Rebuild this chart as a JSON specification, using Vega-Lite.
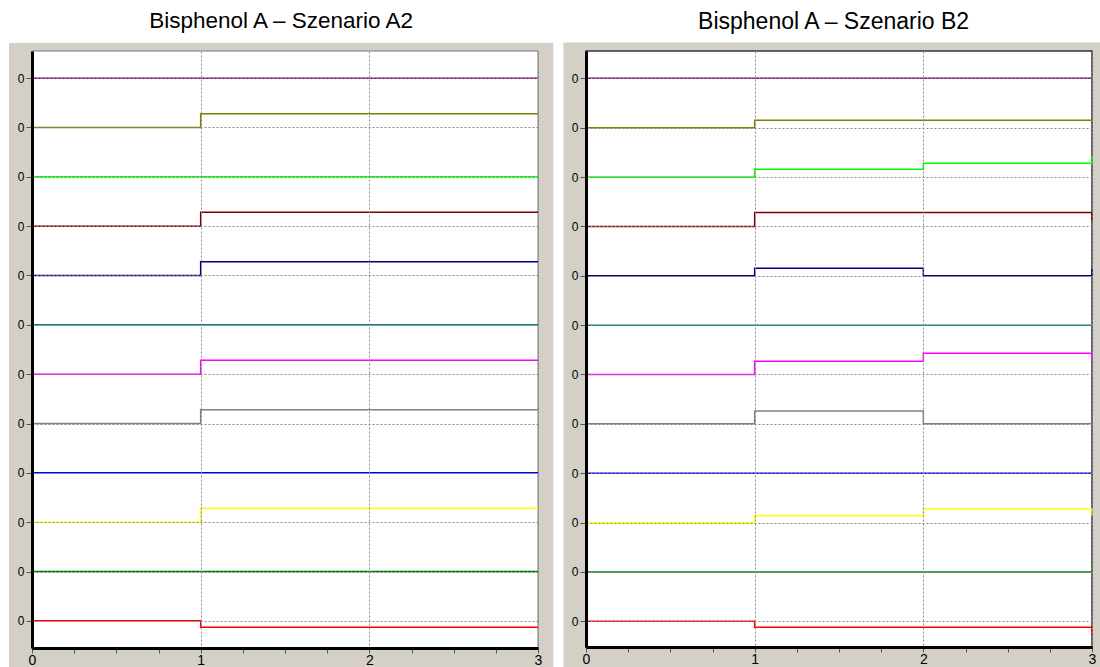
{
  "$schema": "https://vega.github.io/schema/vega-lite/v6.json",
  "background": "white",
  "padding": {"left": 8, "top": 9, "right": 0, "bottom": 0},
  "spacing": 9,
  "config": {
    "view": {"stroke": null},
    "font": "Liberation Sans",
    "axis": {
      "title": null,
      "domainColor": "black",
      "domainWidth": 3,
      "tickColor": "#555555",
      "tickWidth": 1,
      "labelColor": "black",
      "labelFont": "Liberation Sans",
      "labelOverlap": false,
      "labelFlush": false,
      "grid": true,
      "gridColor": "#888888",
      "gridDash": [2, 2],
      "gridWidth": 1
    },
    "axisX": {"labelFontSize": 14, "labelPadding": 0},
    "axisY": {"labelFontSize": 12, "labelPadding": 2}
  },
  "datasets": {
    "a2": [
      {"s": "S1", "x": 0, "v": 11}, {"s": "S1", "x": 1, "v": 11}, {"s": "S1", "x": 2, "v": 11}, {"s": "S1", "x": 3, "v": 11},
      {"s": "S2", "x": 0, "v": 10}, {"s": "S2", "x": 1, "v": 10.28}, {"s": "S2", "x": 2, "v": 10.28}, {"s": "S2", "x": 3, "v": 10.28},
      {"s": "S3", "x": 0, "v": 9}, {"s": "S3", "x": 1, "v": 9}, {"s": "S3", "x": 2, "v": 9}, {"s": "S3", "x": 3, "v": 9},
      {"s": "S4", "x": 0, "v": 8}, {"s": "S4", "x": 1, "v": 8.28}, {"s": "S4", "x": 2, "v": 8.28}, {"s": "S4", "x": 3, "v": 8.28},
      {"s": "S5", "x": 0, "v": 7}, {"s": "S5", "x": 1, "v": 7.28}, {"s": "S5", "x": 2, "v": 7.28}, {"s": "S5", "x": 3, "v": 7.28},
      {"s": "S6", "x": 0, "v": 6}, {"s": "S6", "x": 1, "v": 6}, {"s": "S6", "x": 2, "v": 6}, {"s": "S6", "x": 3, "v": 6},
      {"s": "S7", "x": 0, "v": 5}, {"s": "S7", "x": 1, "v": 5.28}, {"s": "S7", "x": 2, "v": 5.28}, {"s": "S7", "x": 3, "v": 5.28},
      {"s": "S8", "x": 0, "v": 4}, {"s": "S8", "x": 1, "v": 4.28}, {"s": "S8", "x": 2, "v": 4.28}, {"s": "S8", "x": 3, "v": 4.28},
      {"s": "S9", "x": 0, "v": 3}, {"s": "S9", "x": 1, "v": 3}, {"s": "S9", "x": 2, "v": 3}, {"s": "S9", "x": 3, "v": 3},
      {"s": "S10", "x": 0, "v": 2}, {"s": "S10", "x": 1, "v": 2.28}, {"s": "S10", "x": 2, "v": 2.28}, {"s": "S10", "x": 3, "v": 2.28},
      {"s": "S11", "x": 0, "v": 1}, {"s": "S11", "x": 1, "v": 1}, {"s": "S11", "x": 2, "v": 1}, {"s": "S11", "x": 3, "v": 1},
      {"s": "S12", "x": 0, "v": 0}, {"s": "S12", "x": 1, "v": -0.13}, {"s": "S12", "x": 2, "v": -0.13}, {"s": "S12", "x": 3, "v": -0.13}
    ],
    "b2": [
      {"s": "S1", "x": 0, "v": 11}, {"s": "S1", "x": 1, "v": 11}, {"s": "S1", "x": 2, "v": 11}, {"s": "S1", "x": 3, "v": 11},
      {"s": "S2", "x": 0, "v": 10}, {"s": "S2", "x": 1, "v": 10.15}, {"s": "S2", "x": 2, "v": 10.15}, {"s": "S2", "x": 3, "v": 10.15},
      {"s": "S3", "x": 0, "v": 9}, {"s": "S3", "x": 1, "v": 9.16}, {"s": "S3", "x": 2, "v": 9.28}, {"s": "S3", "x": 3, "v": 9.42},
      {"s": "S4", "x": 0, "v": 8}, {"s": "S4", "x": 1, "v": 8.28}, {"s": "S4", "x": 2, "v": 8.28}, {"s": "S4", "x": 3, "v": 8.12},
      {"s": "S5", "x": 0, "v": 7}, {"s": "S5", "x": 1, "v": 7.15}, {"s": "S5", "x": 2, "v": 7}, {"s": "S5", "x": 3, "v": 7.15},
      {"s": "S6", "x": 0, "v": 6}, {"s": "S6", "x": 1, "v": 6}, {"s": "S6", "x": 2, "v": 6}, {"s": "S6", "x": 3, "v": 6},
      {"s": "S7", "x": 0, "v": 5}, {"s": "S7", "x": 1, "v": 5.27}, {"s": "S7", "x": 2, "v": 5.43}, {"s": "S7", "x": 3, "v": 5.27},
      {"s": "S8", "x": 0, "v": 4}, {"s": "S8", "x": 1, "v": 4.26}, {"s": "S8", "x": 2, "v": 4}, {"s": "S8", "x": 3, "v": 4},
      {"s": "S9", "x": 0, "v": 3}, {"s": "S9", "x": 1, "v": 3}, {"s": "S9", "x": 2, "v": 3}, {"s": "S9", "x": 3, "v": 3},
      {"s": "S10", "x": 0, "v": 2}, {"s": "S10", "x": 1, "v": 2.14}, {"s": "S10", "x": 2, "v": 2.28}, {"s": "S10", "x": 3, "v": 2.15},
      {"s": "S11", "x": 0, "v": 1}, {"s": "S11", "x": 1, "v": 1}, {"s": "S11", "x": 2, "v": 1}, {"s": "S11", "x": 3, "v": 1},
      {"s": "S12", "x": 0, "v": 0}, {"s": "S12", "x": 1, "v": -0.12}, {"s": "S12", "x": 2, "v": -0.12}, {"s": "S12", "x": 3, "v": -0.28}
    ]
  },
  "hconcat": [
    {
      "title": {"text": "Bisphenol A – Szenario A2", "fontSize": 22.5, "font": "Liberation Sans", "fontWeight": "normal", "color": "black", "anchor": "middle", "frame": "bounds", "offset": 11},
      "width": 506,
      "height": 597,
      "layer": [
        {
          "data": {"values": [{}]},
          "mark": {"type": "rect", "fill": "#d4d0c8", "stroke": null},
          "encoding": {
            "x": {
              "datum": -0.1364, "type": "quantitative",
              "scale": {"domain": [0, 3], "nice": false, "zero": false},
              "axis": {
                "zindex": 1,
                "values": [0, 0.25, 0.5, 0.75, 1, 1.25, 1.5, 1.75, 2, 2.25, 2.5, 2.75, 3],
                "labelExpr": "abs(datum.value - round(datum.value)) < 0.01 ? format(datum.value, 'd') : ''",
                "tickSize": 5,
                "gridOpacity": {"condition": {"test": "abs(datum.value - round(datum.value)) < 0.01 && datum.value > 0.5", "value": 1}, "value": 0}
              }
            },
            "x2": {"datum": 3.0908},
            "y": {
              "datum": -1.0, "type": "quantitative",
              "scale": {"domain": [-0.55, 11.55], "nice": false, "zero": false},
              "axis": {
                "zindex": 1,
                "values": [0, 1, 2, 3, 4, 5, 6, 7, 8, 9, 10, 11],
                "labelExpr": "'0'",
                "tickSize": 6
              }
            },
            "y2": {"datum": 11.712}
          }
        },
        {
          "data": {"values": [{}]},
          "mark": {"type": "rect", "fill": "white", "stroke": "#777777", "strokeWidth": 1},
          "encoding": {
            "x": {"datum": 0, "type": "quantitative"},
            "x2": {"datum": 3},
            "y": {"datum": -0.55, "type": "quantitative"},
            "y2": {"datum": 11.55}
          }
        },
        {
          "data": {"name": "a2"},
          "mark": {"type": "line", "interpolate": "step-after", "strokeWidth": 1.5},
          "encoding": {
            "x": {"field": "x", "type": "quantitative"},
            "y": {"field": "v", "type": "quantitative"},
            "color": {
              "field": "s", "type": "nominal", "legend": null,
              "scale": {
                "domain": ["S1", "S2", "S3", "S4", "S5", "S6", "S7", "S8", "S9", "S10", "S11", "S12"],
                "range": ["#800080", "#808000", "#00ff00", "#800000", "#000080", "#008080", "#ff00ff", "#808080", "#0000ff", "#ffff00", "#008000", "#ff0000"]
              }
            }
          }
        }
      ]
    },
    {
      "title": {"text": "Bisphenol A – Szenario B2", "fontSize": 23, "font": "Liberation Sans", "fontWeight": "normal", "color": "black", "anchor": "middle", "frame": "bounds", "offset": 9},
      "width": 506,
      "height": 596,
      "layer": [
        {
          "data": {"values": [{}]},
          "mark": {"type": "rect", "fill": "#d4d0c8", "stroke": null},
          "encoding": {
            "x": {
              "datum": -0.134, "type": "quantitative",
              "scale": {"domain": [0, 3], "nice": false, "zero": false},
              "axis": {
                "zindex": 1,
                "values": [0, 0.25, 0.5, 0.75, 1, 1.25, 1.5, 1.75, 2, 2.25, 2.5, 2.75, 3],
                "labelExpr": "abs(datum.value - round(datum.value)) < 0.01 ? format(datum.value, 'd') : ''",
                "tickSize": 5,
                "gridOpacity": {"condition": {"test": "abs(datum.value - round(datum.value)) < 0.01 && datum.value > 0.5", "value": 1}, "value": 0}
              }
            },
            "x2": {"datum": 3.07},
            "y": {
              "datum": -1.0, "type": "quantitative",
              "scale": {"domain": [-0.52, 11.553], "nice": false, "zero": false},
              "axis": {
                "zindex": 1,
                "values": [0, 1, 2, 3, 4, 5, 6, 7, 8, 9, 10, 11],
                "labelExpr": "'0'",
                "tickSize": 6
              }
            },
            "y2": {"datum": 11.723}
          }
        },
        {
          "data": {"values": [{}]},
          "mark": {"type": "rect", "fill": "white", "stroke": "#333333", "strokeWidth": 1.5},
          "encoding": {
            "x": {"datum": 0, "type": "quantitative"},
            "x2": {"datum": 3},
            "y": {"datum": -0.52, "type": "quantitative"},
            "y2": {"datum": 11.553}
          }
        },
        {
          "data": {"name": "b2"},
          "mark": {"type": "line", "interpolate": "step-after", "strokeWidth": 1.5},
          "encoding": {
            "x": {"field": "x", "type": "quantitative"},
            "y": {"field": "v", "type": "quantitative"},
            "color": {
              "field": "s", "type": "nominal", "legend": null,
              "scale": {
                "domain": ["S1", "S2", "S3", "S4", "S5", "S6", "S7", "S8", "S9", "S10", "S11", "S12"],
                "range": ["#800080", "#808000", "#00ff00", "#800000", "#000080", "#008080", "#ff00ff", "#808080", "#0000ff", "#ffff00", "#008000", "#ff0000"]
              }
            }
          }
        }
      ]
    }
  ]
}
